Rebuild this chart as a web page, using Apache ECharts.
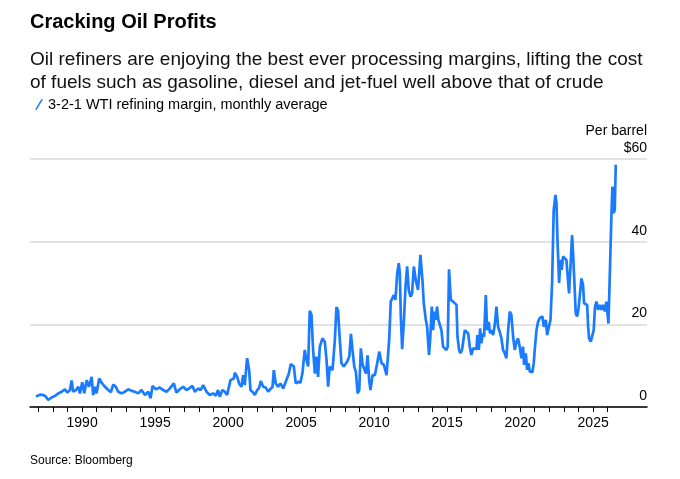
<!DOCTYPE html>
<html>
<head>
<meta charset="utf-8">
<script src="https://cdn.jsdelivr.net/npm/echarts@6/dist/echarts.min.js"></script>
<style>
html, body { margin: 0; padding: 0; background: #fff; }
#chart { width: 680px; height: 479px; }
</style>
</head>
<body>
<div id="chart"></div>
<script>
// 3-2-1 WTI refining margin, $ per barrel (x = decimal year)
var dates = [
  1986.84, 1987.11, 1987.34, 1987.52, 1987.68, 1987.91,
  1988.14, 1988.37, 1988.60, 1988.82, 1988.98,
  1989.17, 1989.28, 1989.39, 1989.58, 1989.74, 1989.85,
  1990.01, 1990.15, 1990.31, 1990.47, 1990.65, 1990.76, 1990.88, 1990.99,
  1991.17, 1991.33, 1991.56, 1991.79, 1991.97,
  1992.13, 1992.31, 1992.47, 1992.70, 1992.93,
  1993.16, 1993.39, 1993.61, 1993.84,
  1994.07, 1994.30, 1994.53, 1994.69, 1994.82,
  1995.05, 1995.32, 1995.55, 1995.78,
  1996.01, 1996.28, 1996.46, 1996.69, 1996.92,
  1997.15, 1997.33, 1997.56, 1997.72, 1997.95,
  1998.11, 1998.29, 1998.52, 1998.74, 1998.97,
  1999.16, 1999.31, 1999.43, 1999.61, 1999.77, 1999.93,
  2000.16, 2000.39, 2000.46, 2000.62, 2000.75, 2000.91,
  2001.03, 2001.14, 2001.30, 2001.44, 2001.53, 2001.71, 2001.83, 2001.99,
  2002.12, 2002.24, 2002.40, 2002.58, 2002.74, 2002.85,
  2003.04, 2003.13, 2003.26, 2003.42, 2003.58, 2003.77,
  2004.00, 2004.16, 2004.29, 2004.50, 2004.63, 2004.79, 2004.95,
  2005.09, 2005.25, 2005.37, 2005.48, 2005.59, 2005.71, 2005.82, 2005.94,
  2006.05, 2006.16, 2006.28, 2006.46, 2006.62, 2006.74, 2006.85, 2006.96,
  2007.15, 2007.31, 2007.42, 2007.53, 2007.65, 2007.76, 2007.92,
  2008.00, 2008.16, 2008.30, 2008.41, 2008.52, 2008.64, 2008.75, 2008.87, 2008.98,
  2009.09, 2009.21, 2009.32, 2009.44, 2009.55, 2009.66, 2009.75, 2009.89,
  2010.05, 2010.21, 2010.35, 2010.51, 2010.67, 2010.85,
  2011.03, 2011.14, 2011.26, 2011.35, 2011.46, 2011.58, 2011.69, 2011.76, 2011.83, 2011.92,
  2012.03, 2012.15, 2012.26, 2012.37, 2012.49, 2012.60, 2012.72, 2012.85,
  2013.01, 2013.17, 2013.31, 2013.40, 2013.54, 2013.63, 2013.76, 2013.85, 2013.95,
  2014.04, 2014.13, 2014.22, 2014.31, 2014.40, 2014.49, 2014.61, 2014.72, 2014.83, 2014.95,
  2015.04, 2015.13, 2015.25, 2015.41, 2015.52, 2015.64, 2015.71, 2015.82, 2015.91,
  2016.02, 2016.14, 2016.21, 2016.32, 2016.44, 2016.55, 2016.66, 2016.78, 2016.89,
  2017.01, 2017.07, 2017.17, 2017.26, 2017.35, 2017.44, 2017.53, 2017.65, 2017.74, 2017.85, 2017.94,
  2018.03, 2018.15, 2018.26, 2018.38, 2018.49, 2018.60, 2018.72, 2018.83, 2018.95,
  2019.06, 2019.18, 2019.29, 2019.40, 2019.52, 2019.63, 2019.75, 2019.86, 2019.97,
  2020.09, 2020.20, 2020.27, 2020.39, 2020.48, 2020.57, 2020.66, 2020.84, 2020.93,
  2021.00, 2021.12, 2021.23, 2021.34, 2021.53, 2021.62, 2021.76, 2021.85, 2021.96,
  2022.08, 2022.19, 2022.30, 2022.42, 2022.49, 2022.55, 2022.67, 2022.76, 2022.85, 2022.94,
  2023.06, 2023.17, 2023.26, 2023.35, 2023.45, 2023.56, 2023.65, 2023.74, 2023.81, 2023.90, 2023.99,
  2024.08, 2024.20, 2024.31, 2024.38, 2024.50, 2024.59, 2024.66, 2024.72, 2024.84, 2024.95,
  2025.04, 2025.13, 2025.23, 2025.34, 2025.45, 2025.57, 2025.68, 2025.80, 2025.91, 2025.98,
  2026.05, 2026.14, 2026.25, 2026.32, 2026.39, 2026.41, 2026.48, 2026.55
];
var margin = [
  2.5, 3.0, 2.9, 2.5, 1.7, 2.3,
  2.7, 3.3, 3.7, 4.3, 3.5,
  4.1, 6.4, 3.7, 4.1, 4.9, 3.3,
  6.0, 3.3, 6.5, 4.9, 7.3, 2.9, 4.9, 3.3,
  6.9, 5.9, 4.9, 4.1, 3.6,
  5.4, 4.9, 3.7, 3.3, 3.7,
  4.3, 3.9, 3.7, 3.3,
  4.1, 2.9, 3.7, 2.1, 5.1,
  4.3, 4.7, 4.1, 3.7,
  4.5, 5.7, 3.5, 4.3, 4.9,
  4.1, 4.5, 5.1, 3.7, 4.5,
  4.1, 5.3, 3.7, 2.9, 3.3,
  2.7, 4.1, 2.5, 4.1, 3.7, 2.9,
  6.5, 6.9, 8.3, 7.3, 5.7, 4.9,
  7.7, 5.3, 11.8, 8.9, 4.1, 3.5, 2.9, 4.1,
  4.6, 6.3, 4.9, 4.7, 3.7, 3.3,
  4.9, 8.9, 5.7, 4.9, 5.7, 4.5,
  6.6, 8.1, 10.4, 9.8, 5.7, 6.1, 5.9,
  8.2, 13.8, 11.4, 9.8, 23.3, 22.3, 13.8, 8.1,
  12.2, 7.3, 14.6, 16.6, 15.8, 11.4, 4.9, 9.8,
  8.9, 16.2, 24.2, 23.3, 16.2, 10.6, 9.8,
  10.2, 11.0, 12.2, 17.7, 13.8, 9.7, 8.5, 3.3, 4.1,
  14.2, 10.2, 10.6, 8.1, 12.5, 6.5, 4.1, 7.7,
  7.7, 10.6, 13.4, 10.6, 10.2, 7.7,
  16.2, 25.5, 25.1, 27.1, 25.9, 32.3, 34.8, 32.3, 21.8, 14.0,
  20.2, 29.1, 34.0, 28.3, 26.7, 27.5, 34.0, 30.7,
  28.3, 36.8, 30.7, 25.1, 21.1, 19.4, 12.6, 17.0, 24.3,
  18.6, 23.1, 21.1, 24.3, 21.1, 21.5, 18.6, 14.6, 14.6, 13.8,
  14.6, 33.3, 25.9, 25.5, 25.1, 24.7, 17.0, 13.8, 13.0,
  13.8, 13.4, 18.6, 18.8, 17.8, 14.6, 12.6, 14.2, 13.8,
  14.0, 17.4, 13.8, 19.0, 15.4, 17.8, 17.0, 27.1, 18.6, 20.6, 17.8,
  18.6, 17.4, 19.8, 24.3, 19.4, 18.2, 16.6, 13.8, 13.0,
  11.8, 18.6, 23.1, 22.3, 17.0, 13.8, 15.8, 16.6, 14.6,
  11.8, 14.6, 10.2, 13.0, 9.0, 10.6, 8.6, 8.4, 10.6,
  13.8, 18.6, 20.6, 21.5, 21.9, 19.4, 21.1, 17.4, 17.4,
  21.1, 30.0, 47.7, 51.3, 49.3, 41.2, 30.0, 35.6, 33.2, 36.4,
  36.6, 35.6, 31.6, 27.5, 34.0, 41.6, 35.6, 28.3, 22.7, 21.9, 23.5,
  26.7, 31.1, 29.5, 25.1, 24.7, 24.7, 19.4, 16.6, 15.8, 16.2,
  18.6, 24.3, 25.5, 23.5, 24.7, 23.5, 24.7, 23.1, 25.5, 22.7,
  20.2, 31.6, 46.0, 53.3, 51.7, 46.9, 47.7, 58.6
];
var tickYears = [1987, 1988, 1989, 1990, 1991, 1992, 1993, 1994, 1995, 1996,
  1997, 1998, 1999, 2000, 2001, 2002, 2003, 2004, 2005, 2006,
  2007, 2008, 2009, 2010, 2011, 2012, 2013, 2014, 2015, 2016,
  2017, 2018, 2019, 2020, 2021, 2022, 2023, 2024, 2025, 2026];
var labelYears = [1990, 1995, 2000, 2005, 2010, 2015, 2020, 2025];

var font = "'Liberation Sans', Arial, sans-serif";
var seriesName = '3-2-1 WTI refining margin, monthly average';

var lineData = dates.map(function (d, i) { return [d, margin[i]]; });

var chart = echarts.init(document.getElementById('chart'), null, { renderer: 'canvas' });
chart.setOption({
  animation: false,
  backgroundColor: '#fff',
  textStyle: { fontFamily: font },
  title: [
    {
      text: 'Cracking Oil Profits',
      left: 30, top: 12, padding: 0,
      textStyle: { fontSize: 20, fontWeight: 'bold', color: '#000', fontFamily: font }
    },
    {
      text: 'Oil refiners are enjoying the best ever processing margins, lifting the cost\nof fuels such as gasoline, diesel and jet-fuel well above that of crude',
      left: 30, top: 48, padding: 0,
      textStyle: { fontSize: 19, lineHeight: 23, fontWeight: 'normal', color: '#111', fontFamily: font }
    },
    {
      text: 'Per barrel',
      right: 33, top: 124, padding: 0,
      textStyle: { fontSize: 14, fontWeight: 'normal', color: '#000', fontFamily: font }
    },
    {
      text: 'Source: Bloomberg',
      left: 30, top: 455, padding: 0,
      textStyle: { fontSize: 12, fontWeight: 'normal', color: '#000', fontFamily: font }
    }
  ],
  legend: {
    left: 35, top: 97, padding: 0,
    itemWidth: 8, itemHeight: 12,
    icon: 'path://M0,12 L2,12 L9,0 L7,0 Z',
    textStyle: { fontSize: 14.5, color: '#000', fontFamily: font },
    data: [seriesName]
  },
  grid: { left: 30, right: 33, top: 159, bottom: 72, containLabel: false, outerBoundsMode: 'none' },
  xAxis: {
    type: 'value',
    min: 1986.43, max: 2028.69,
    axisLine: { lineStyle: { color: '#000', width: 1.5 } },
    axisTick: { customValues: tickYears, length: 5, lineStyle: { color: '#000', width: 1 } },
    axisLabel: {
      customValues: labelYears, margin: 9, fontSize: 14, color: '#000',
      formatter: function (v) { return String(v); }
    },
    splitLine: { show: false }
  },
  yAxis: {
    type: 'value',
    position: 'right',
    min: 0, max: 60, interval: 20,
    axisLine: { show: false },
    axisTick: { show: false },
    splitLine: { lineStyle: { color: '#d9d9d9', width: 1.5 } },
    axisLabel: {
      inside: true, margin: 0, verticalAlign: 'bottom', padding: [0, 0, 4, 0],
      fontSize: 14, color: '#000',
      formatter: function (v) { return v === 60 ? '$60' : String(v); }
    }
  },
  series: [{
    name: seriesName,
    type: 'line',
    data: lineData,
    showSymbol: false,
    color: '#1a7bff',
    lineStyle: { color: '#1a7bff', width: 2.7 },
    emphasis: { disabled: true }
  }]
});
</script>
</body>
</html>
